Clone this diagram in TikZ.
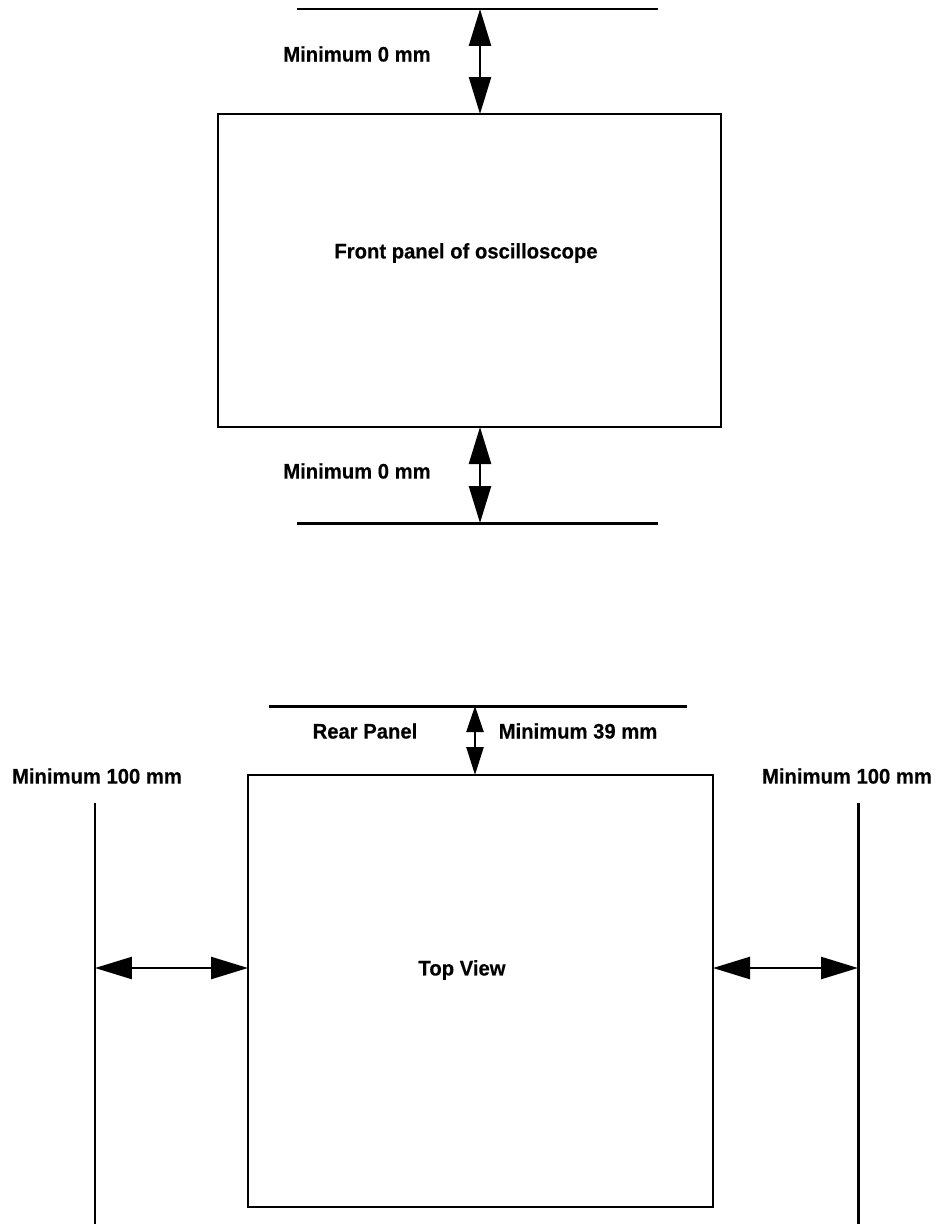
\documentclass[tikz,border=0pt]{standalone}
\usepackage{fontspec}
\setmainfont[BoldFeatures={FakeStretch=0.96,FakeBold=0.4}]{Liberation Sans}
\usetikzlibrary{arrows.meta}
\tikzset{
  wall/.style={line width=1.7pt},
  casing/.style={line width=1.1pt},
  gaparrow/.style={line width=1.4pt,{Triangle[length=0.74cm,width=0.44cm]}-{Triangle[length=0.74cm,width=0.44cm]}},
  shortgap/.style={line width=1.4pt,{Triangle[length=0.52cm,width=0.34cm]}-{Triangle[length=0.56cm,width=0.34cm]}},
  lbl/.style={font=\fontsize{12}{14}\selectfont\bfseries,inner sep=0pt}
}
\begin{document}
\begin{tikzpicture}[x=0.02cm,y=-0.02cm]
\useasboundingbox (0,0) rectangle (941,1224);
\pgfmathsetmacro{\fx}{480}   %front arrows
\pgfmathsetmacro{\rx}{475}   %rear arrow
\pgfmathsetmacro{\sy}{968}   %side arrows
%front view
\coordinate (fWallTopL) at (297,9);
\coordinate (fWallTopR) at (658,9);
\coordinate (fWallBotL) at (297,523);
\coordinate (fWallBotR) at (658,523);
\coordinate (fBoxA) at (218,114);
\coordinate (fBoxB) at (721,427);
\draw[wall] (fWallTopL) -- (fWallTopR);
\draw[wall] (fWallBotL) -- (fWallBotR);
\draw[casing] (fBoxA) rectangle (fBoxB);
\coordinate (fTop) at (\fx,9);
\coordinate (fBoxTop) at (\fx,114);
\coordinate (fBoxBot) at (\fx,427);
\coordinate (fBot) at (\fx,523);
\draw[gaparrow] (fTop) -- (fBoxTop);
\draw[gaparrow] (fBoxBot) -- (fBot);
\node[lbl] (fTopGap) at (357,54) {Minimum 0 mm};
\node[lbl] (fBotGap) at (357,471) {Minimum 0 mm};
\node[lbl] (fName) at (466,253) {Front panel of oscilloscope};
%top view
\coordinate (rWallL) at (269,706);
\coordinate (rWallR) at (687,706);
\coordinate (tBoxA) at (248,775);
\coordinate (tBoxB) at (713,1207);
\draw[wall] (rWallL) -- (rWallR);
\draw[casing] (tBoxA) rectangle (tBoxB);
\coordinate (lWallTop) at (95,803);
\coordinate (lWallBot) at (95,1224);
\coordinate (sWallTop) at (858,803);
\coordinate (sWallBot) at (858,1224);
\draw[wall] (lWallTop) -- (lWallBot);
\draw[wall] (sWallTop) -- (sWallBot);
\coordinate (rTop) at (\rx,706);
\coordinate (rBox) at (\rx,775);
\draw[shortgap] (rTop) -- (rBox);
\coordinate (lWall) at (95,\sy);
\coordinate (lBox) at (248,\sy);
\coordinate (sBox) at (713,\sy);
\coordinate (sWall) at (858,\sy);
\draw[gaparrow] (lWall) -- (lBox);
\draw[gaparrow] (sBox) -- (sWall);
\node[lbl] (rName) at (365,731) {Rear Panel};
\node[lbl] (rGap) at (578,731) {Minimum 39 mm};
\node[lbl] (lGap) at (97,776) {Minimum 100 mm};
\node[lbl] (sGap) at (847,776) {Minimum 100 mm};
\node[lbl] (tName) at (462,970) {Top View};
\end{tikzpicture}
\end{document}
